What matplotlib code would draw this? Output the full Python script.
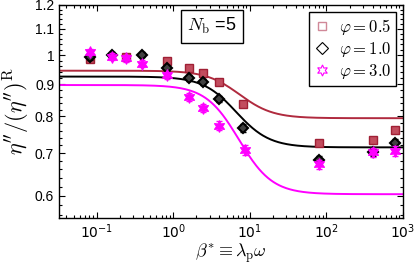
import numpy as np
import matplotlib
matplotlib.use("Agg")
import matplotlib.pyplot as plt
from matplotlib.ticker import FixedLocator, NullFormatter

plt.rcParams['mathtext.fontset'] = 'cm'
plt.rcParams['font.family'] = ['Liberation Sans', 'DejaVu Sans']

# ---- data ----
phi_labels = [r'$\varphi=0.5$', r'$\varphi=1.0$', r'$\varphi=3.0$']
colors = ['#B02A3E', '#000000', '#FF00FF']

x_red = [0.082, 0.243, 0.82, 1.62, 2.47, 4.0, 8.05, 80, 403, 790]
y_red = [0.986, 0.992, 0.979, 0.953, 0.936, 0.908, 0.838, 0.726, 0.735, 0.762]

x_blk = [0.082, 0.16, 0.393, 0.82, 1.62, 2.47, 4.0, 8.05, 80, 403, 790]
y_blk = [0.992, 1.002, 1.002, 0.953, 0.919, 0.908, 0.852, 0.767, 0.682, 0.702, 0.726]

x_mag = [0.082, 0.16, 0.243, 0.393, 0.82, 1.62, 2.47, 4.0, 8.5, 80, 403, 790]
y_mag = [1.011, 0.995, 0.989, 0.969, 0.929, 0.858, 0.826, 0.774, 0.708, 0.672, 0.702, 0.706]

err_red = 0.008
err_blk = 0.010
err_mag = 0.012

# fit parameters (high plateau, low plateau, crossover beta)
fit_high = [0.945, 0.925, 0.897]
fit_low = [0.795, 0.715, 0.603]
fit_x0 = [7.0, 6.2, 6.5]

yticks = [0.6, 0.7, 0.8, 0.9, 1.0, 1.1, 1.2]
ytick_labels = ['0.6', '0.7', '0.8', '0.9', '1', '1.1', '1.2']
xticks = [0.1, 1, 10, 100, 1000]
xtick_labels = [r'$10^{-1}$', r'$10^{0}$', r'$10^{1}$', r'$10^{2}$', r'$10^{3}$']

# ---- figure ----
fig = plt.figure(figsize=(4.15, 2.67), dpi=100)
ax = fig.add_axes([59/415, 1-218/267, (403-59)/415, (218-5)/267])
ax.set_xscale('log')
ax.set_yscale('log')

xs = np.logspace(np.log10(0.02), np.log10(2000), 400)
for hi, lo, x0, c in zip(fit_high, fit_low, fit_x0, colors):
    ax.plot(xs, lo + (hi - lo) / (1 + (xs / x0) ** 2), color=c, lw=1.4, zorder=2)

star6 = (6, 1, 0)
ax.errorbar(x_red, y_red, yerr=err_red, fmt='none', ecolor='#A02035',
            elinewidth=0.8, capsize=2.5, zorder=3)
ax.plot(x_red, y_red, 's', ms=6, mfc='#C24C5E', mec='#A02035', mew=1.0, zorder=3)
ax.errorbar(x_blk, y_blk, yerr=err_blk, fmt='none', ecolor='black',
            elinewidth=0.8, capsize=2, zorder=4)
ax.plot(x_blk, y_blk, 'D', ms=5, mfc='#404040', mec='black', mew=1.5, zorder=4)
ax.errorbar(x_mag, y_mag, yerr=err_mag, fmt='none', ecolor='#FF00FF',
            elinewidth=0.8, capsize=2, zorder=5)
ax.plot(x_mag, y_mag, marker=star6, ls='none', ms=8.5, mfc='#FF00FF', mec='#FF00FF',
        mew=0.8, zorder=5)

# legend handles (hollow)
h1, = ax.plot([], [], 's', ms=6, mfc='none', mec='#D08898', mew=1.0)
h2, = ax.plot([], [], 'D', ms=6, mfc='none', mec='black', mew=0.8)
h3, = ax.plot([], [], marker=star6, ls='none', ms=8, mfc='none', mec='#FF00FF', mew=0.8)
leg = ax.legend([h1, h2, h3], phi_labels, loc='upper right', fontsize=12,
                frameon=True, fancybox=False, edgecolor='black', framealpha=1,
                handlelength=1.0, handletextpad=0.5, borderpad=0.3, labelspacing=0.2,
                borderaxespad=0.4)
leg.get_frame().set_linewidth(1.0)

ax.text(0.445, 0.90, r'$N_\mathrm{b}$ =5', transform=ax.transAxes, fontsize=13,
        ha='center', va='center', math_fontfamily='cm',
        bbox=dict(boxstyle='square,pad=0.35', fc='white', ec='black', lw=1.0))

ax.set_xlim(0.032, 1000)
ax.set_ylim(0.553, 1.2)

ax.yaxis.set_major_locator(FixedLocator(yticks))
ax.set_yticklabels(ytick_labels)
ax.yaxis.set_minor_locator(FixedLocator(np.round(np.arange(0.56, 1.2, 0.02), 2)))
ax.yaxis.set_minor_formatter(NullFormatter())
ax.xaxis.set_major_locator(FixedLocator(xticks))
ax.set_xticklabels(xtick_labels)
for t in ax.get_xticklabels():
    t.set_math_fontfamily('dejavusans')

ax.tick_params(which='both', direction='in', top=True, right=True, labelsize=10)
ax.tick_params(which='major', length=4, width=0.8)
ax.tick_params(which='minor', length=2.5, width=0.8)
for s in ax.spines.values():
    s.set_linewidth(1.0)

ax.set_ylabel(r"$\eta''/(\eta'')^{\mathrm{R}}$", fontsize=16, labelpad=2)
ax.set_xlabel(r"$\beta^{*}\equiv\lambda_{\mathrm{p}}\omega$", fontsize=13, labelpad=0)

fig.savefig('out.png', dpi=100)
